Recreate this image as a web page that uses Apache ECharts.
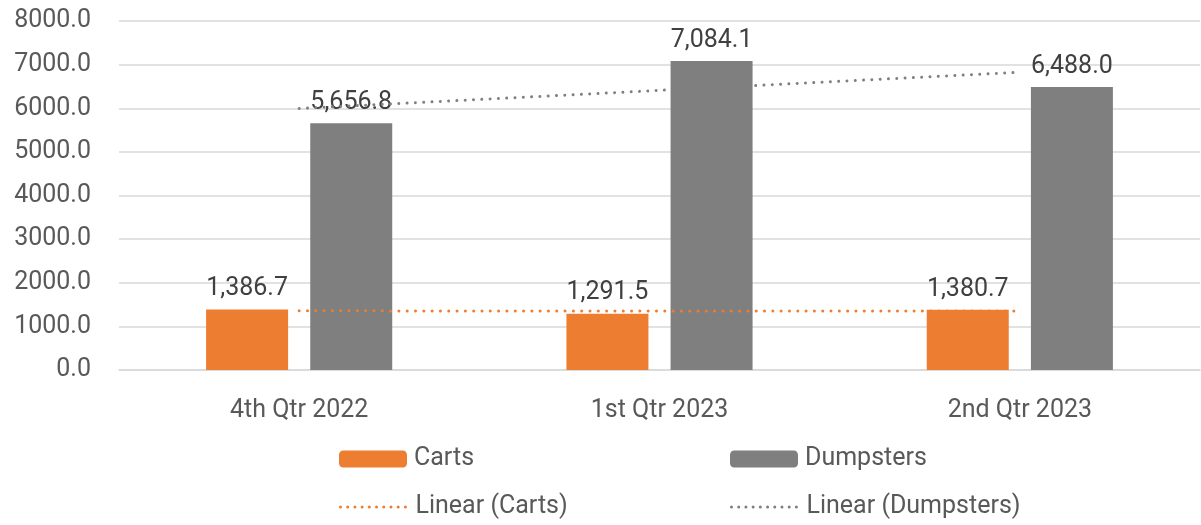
<!DOCTYPE html>
<html>
<head>
<meta charset="utf-8">
<script src="https://cdn.jsdelivr.net/npm/echarts@6/dist/echarts.min.js"></script>
<style>
    html, body { margin: 0; padding: 0; background: #fff; }
    #chart { width: 1201px; height: 525px; }
</style>
</head>
<body>
<div id="chart"></div>
<script>
    const categories = ['4th Qtr 2022', '1st Qtr 2023', '2nd Qtr 2023'];
    const carts = [1386.7, 1291.5, 1380.7];
    const dumpsters = [5656.8, 7084.1, 6488.0];
    // trend lines
    const cartsTrend = [1356, 1353, 1350];
    const dumpstersTrend = [5994, 6410, 6825];

    const font = 'Roboto';
    const dotted = [0.01, 8.3];

    const chart = echarts.init(document.getElementById('chart'));

    function legendAt(name, left, top, isLine) {
        const lg = {
            data: [name],
            left: left,
            top: top,
            padding: 0,
            itemWidth: 68,
            itemHeight: 17,
            selectedMode: false,
            textStyle: {fontFamily: font, fontSize: 25, color: '#595959', lineHeight: 30, padding: [0, 0, 0, 2]}
        };
        if (isLine) {
            lg.itemStyle = {opacity: 0};
            lg.lineStyle = {width: 3, type: [0.01, 7.2], cap: 'round'};
        }
        return lg
    }

    const fmt = p => p.value.toLocaleString('en-US', {minimumFractionDigits: 1, maximumFractionDigits: 1});

    chart.setOption({
        animation: false,
        textStyle: {fontFamily: font},
        grid: {left: 119, right: 1, top: 21, bottom: 155, containLabel: false},
        legend: [
            legendAt('Carts', 339, 444),
            legendAt('Dumpsters', 730, 444),
            legendAt('Linear (Carts)', 339, 492, true),
            legendAt('Linear (Dumpsters)', 730, 492, true)
        ],
        xAxis: {
            type: 'category',
            data: categories,
            axisLine: {lineStyle: {color: '#D9D9D9', width: 1.5}},
            axisTick: {show: false},
            axisLabel: {fontFamily: font, fontSize: 25, color: '#595959', margin: 28}
        },
        yAxis: {
            type: 'value',
            min: 0,
            max: 8000,
            interval: 1000,
            axisLine: {show: false},
            axisTick: {show: false},
            splitLine: {lineStyle: {color: '#D9D9D9', width: 1.5}},
            axisLabel: {fontFamily: font, fontSize: 25, color: '#595959', margin: 28,
                formatter: v => v.toFixed(1)}
        },
        series: [
            {
                name: 'Carts', type: 'bar', data: carts,
                barWidth: 82, barGap: '27%',
                itemStyle: {color: '#ED7D31'},
                label: {show: true, position: 'top', distance: 8, fontFamily: font, fontSize: 25, color: '#404040', formatter: fmt}
            },
            {
                name: 'Dumpsters', type: 'bar', data: dumpsters,
                barWidth: 82,
                itemStyle: {color: '#7F7F7F'},
                label: {show: true, position: 'top', distance: 8, fontFamily: font, fontSize: 25, color: '#404040', formatter: fmt}
            },
            {
                name: 'Linear (Carts)', type: 'line', data: cartsTrend,
                symbol: 'none', z: 5,
                itemStyle: {color: '#ED7D31'},
                lineStyle: {color: '#ED7D31', width: 3, type: dotted, cap: 'round'}
            },
            {
                name: 'Linear (Dumpsters)', type: 'line', data: dumpstersTrend,
                symbol: 'none', z: 5,
                itemStyle: {color: '#7F7F7F'},
                lineStyle: {color: '#7F7F7F', width: 3, type: dotted, cap: 'round'}
            }
        ]
    });
</script>
</body>
</html>
